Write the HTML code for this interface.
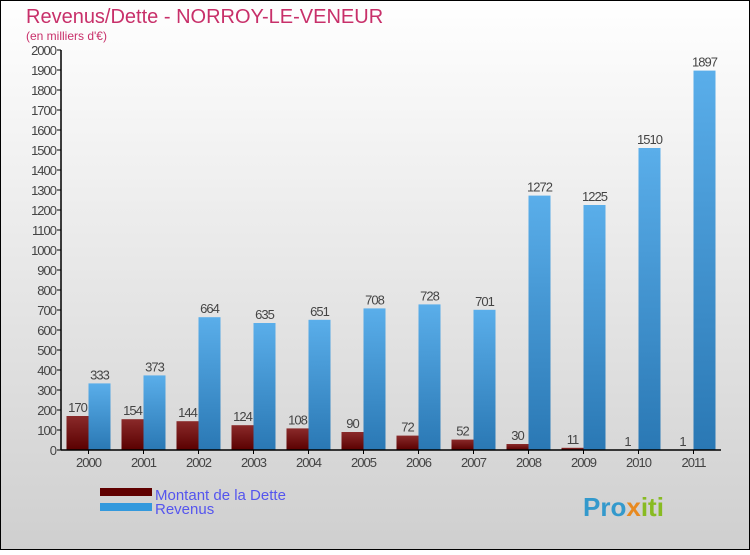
<!DOCTYPE html>
<html><head><meta charset="utf-8"><style>
html,body{margin:0;padding:0}
body{width:750px;height:550px;overflow:hidden;font-family:"Liberation Sans",sans-serif}
</style></head><body>
<svg width="750" height="550" xmlns="http://www.w3.org/2000/svg">
<defs>
<linearGradient id="bg" x1="0" y1="0" x2="0" y2="1"><stop offset="0" stop-color="#ffffff"/><stop offset="1" stop-color="#cfcfcf"/></linearGradient>
<linearGradient id="gd" x1="0" y1="0" x2="0" y2="1"><stop offset="0" stop-color="#8a2a2a"/><stop offset="1" stop-color="#5a0000"/></linearGradient>
<linearGradient id="gr" x1="0" y1="0" x2="0" y2="1"><stop offset="0" stop-color="#5aaeea"/><stop offset="1" stop-color="#2a78b4"/></linearGradient>
</defs>
<rect x="0.5" y="0.5" width="749" height="549" fill="url(#bg)" stroke="#000"/>
<text x="26" y="23" font-size="20" fill="#c8306a">Revenus/Dette - NORROY-LE-VENEUR</text>
<text x="26" y="40" font-size="12" fill="#c8306a">(en milliers d'€)</text>
<g id="plot"></g>
<rect x="100" y="488" width="52" height="8" fill="#600000"/>
<rect x="100" y="503" width="52" height="8" fill="#3399dd"/>
<text x="155" y="500" font-size="15" fill="#5555ee">Montant de la Dette</text>
<text x="155" y="514" font-size="15" fill="#5555ee">Revenus</text>
<text x="583" y="516" font-size="26" font-weight="bold" fill="#3399cc">Pro<tspan fill="#e88a20">x</tspan><tspan fill="#88bb22">iti</tspan></text>
</svg>
<script>
const categories=["2000","2001","2002","2003","2004","2005","2006","2007","2008","2009","2010","2011"];
const dette=[170,154,144,124,108,90,72,52,30,11,1,1];
const revenus=[333,373,664,635,651,708,728,701,1272,1225,1510,1897];
const yTicks=[0,100,200,300,400,500,600,700,800,900,1000,1100,1200,1300,1400,1500,1600,1700,1800,1900,2000];
const NS="http://www.w3.org/2000/svg";
const g=document.getElementById('plot');
const x0=61,band=55,y0=450,yMax=2000,yTop=50;
const y=v=>y0-(v/yMax)*(y0-yTop);
function mk(t,a,txt){const e=document.createElementNS(NS,t);for(const k in a)e.setAttribute(k,a[k]);if(txt!==undefined)e.textContent=txt;g.appendChild(e);return e;}
yTicks.forEach(v=>{
 const t=mk('line',{x1:x0-4,x2:x0,y1:y(v),y2:y(v),stroke:'#000'});
 
 
 const l=mk('text',{x:x0-5,y:y(v)+5,'font-size':13,'text-anchor':'end',fill:'#444','letter-spacing':'-1'},v);
 
 
});
categories.forEach((c,i)=>{
 const cx=x0+band*i+band/2;
 const b1=mk('rect',{x:cx-22,y:y(dette[i]),width:22,height:y0-y(dette[i]),fill:'url(#gd)'});
 
 
 const b2=mk('rect',{x:cx,y:y(revenus[i]),width:22,height:y0-y(revenus[i]),fill:'url(#gr)'});
 
 
 const v1=mk('text',{x:cx-11,y:y(dette[i])-4,'font-size':13,'text-anchor':'middle',fill:'#444','letter-spacing':'-1'},dette[i]);
 
 
 const v2=mk('text',{x:cx+11,y:y(revenus[i])-4,'font-size':13,'text-anchor':'middle',fill:'#444','letter-spacing':'-1'},revenus[i]);
 
 
 const xt=mk('line',{x1:cx,x2:cx,y1:y0,y2:y0+4,stroke:'#000'});
 
 
 const xl=mk('text',{x:cx,y:y0+17,'font-size':13,'text-anchor':'middle',fill:'#444','letter-spacing':'-1'},c);
 
 
});
const ya=mk('line',{x1:x0,x2:x0,y1:yTop,y2:y0,stroke:'#000','stroke-width':1.5});


const xa=mk('line',{x1:x0,x2:x0+band*categories.length,y1:y0,y2:y0,stroke:'#000','stroke-width':1.5});


</script>
</body></html>
